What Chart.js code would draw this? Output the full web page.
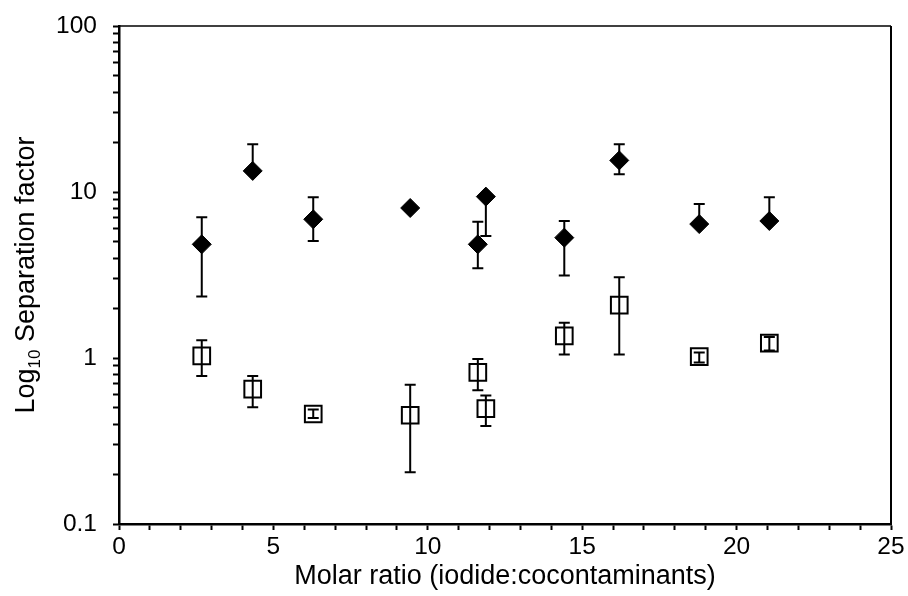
<!DOCTYPE html>
<html>
<head>
<meta charset="utf-8">
<script src="https://cdn.jsdelivr.net/npm/chart.js@4/dist/chart.umd.min.js"></script>
<style>
  html,body{margin:0;padding:0;background:#fff;}
  #wrap{width:908px;height:596px;}
</style>
</head>
<body>
<div id="wrap"><canvas id="c" width="908" height="596"></canvas></div>
<script>
// molar ratio (x) and separation factor (y)
const ratioFilled = [2.68, 4.33, 6.29, 9.43, 11.62, 11.88, 14.42, 16.2, 18.79, 21.06];
const sfFilled    = [4.84, 13.4, 6.85, 8.01, 4.84, 9.38, 5.31, 15.5, 6.41, 6.69];
const filledHigh  = [7.04, 19.4, 9.29, 8.3, 6.63, 9.38, 6.69, 19.4, 8.47, 9.29];
const filledLow   = [2.35, 13.4, 5.07, 7.75, 3.47, 5.43, 3.14, 12.8, 6.41, 6.69];

const ratioOpen = [2.68, 4.33, 6.29, 9.43, 11.62, 11.88, 14.42, 16.2, 18.79, 21.06];
const sfOpen    = [1.03, 0.65, 0.46, 0.452, 0.82, 0.496, 1.36, 2.08, 1.02, 1.23];
const openHigh  = [1.28, 0.78, 0.49, 0.69, 0.985, 0.594, 1.63, 3.06, 1.08, 1.34];
const openLow   = [0.78, 0.505, 0.435, 0.205, 0.64, 0.39, 1.05, 1.05, 0.94, 1.11];

const yMajor = [0.1, 1, 10, 100];
const xMajor = [0, 5, 10, 15, 20, 25];

const FONT = "'Liberation Sans', Arial, Helvetica, sans-serif";
const TICK_SIZE = 24.5, TITLE_SIZE = 27;

function pts(xs, ys, hi, lo){
  return xs.map((x,i)=>({x, y:ys[i], hi:hi[i], lo:lo[i]}));
}

// error bars, drawn under the markers
const errorBars = {
  id:"errorBars",
  beforeDatasetsDraw(chart){
    const {ctx, scales:{x, y}} = chart;
    ctx.save();
    ctx.strokeStyle = "#000"; ctx.lineWidth = 2;
    chart.data.datasets.forEach(ds=>{
      for(const p of ds.data){
        const px = x.getPixelForValue(p.x);
        const yh = y.getPixelForValue(p.hi), yl = y.getPixelForValue(p.lo);
        const cw = 5.5;
        ctx.beginPath();
        ctx.moveTo(px, yh); ctx.lineTo(px, yl);
        ctx.moveTo(px-cw, yh); ctx.lineTo(px+cw, yh);
        ctx.moveTo(px-cw, yl); ctx.lineTo(px+cw, yl);
        ctx.stroke();
      }
    });
    ctx.restore();
  }
};

// top/right frame and the y title with its subscript
const frame = {
  id:"frame",
  afterDraw(chart){
    const {ctx, chartArea:a} = chart;
    ctx.save();
    ctx.strokeStyle = "#000";
    ctx.lineWidth = 1.5;
    ctx.beginPath(); ctx.moveTo(a.left, a.top); ctx.lineTo(a.right, a.top); ctx.stroke();
    ctx.lineWidth = 2;
    ctx.beginPath(); ctx.moveTo(a.right, a.top); ctx.lineTo(a.right, a.bottom); ctx.stroke();

    // y title
    const big = TITLE_SIZE + "px " + FONT, small = "17px " + FONT;
    const parts = [["Log", big, 0], ["10", small, 6], [" Separation factor", big, 0]];
    let total = 0;
    for(const [t,f] of parts){ ctx.font = f; total += ctx.measureText(t).width; }
    ctx.translate(34, (a.top + a.bottom)/2);
    ctx.rotate(-Math.PI/2);
    ctx.fillStyle = "#000";
    ctx.textBaseline = "alphabetic";
    let xx = -total/2;
    for(const [t,f,dy] of parts){
      ctx.font = f; ctx.fillText(t, xx, dy);
      xx += ctx.measureText(t).width;
    }
    ctx.restore();
  }
};

new Chart(document.getElementById("c"), {
  type:"scatter",
  data:{datasets:[
    {label:"filled", data:pts(ratioFilled, sfFilled, filledHigh, filledLow),
     pointStyle:"rectRot", pointRadius:9.5, pointHoverRadius:9.5,
     backgroundColor:"#000", borderColor:"#000", borderWidth:1},
    {label:"open", data:pts(ratioOpen, sfOpen, openHigh, openLow),
     pointStyle:"rect", pointRadius:11.8, pointHoverRadius:11.8,
     backgroundColor:"rgba(0,0,0,0)", borderColor:"#000", borderWidth:2}
  ]},
  options:{
    responsive:false, animation:false,
    layout:{padding:{top:26, right:17, left:0, bottom:0}},
    plugins:{legend:{display:false}, tooltip:{enabled:false}},
    scales:{
      x:{type:"linear", min:0, max:25,
        afterBuildTicks(s){ s.ticks = Array.from({length:26},(_,i)=>({value:i})); },
        afterFit(s){ s.height = 72; s.paddingLeft = 0; s.paddingRight = 0; },
        ticks:{autoSkip:false, maxRotation:0, padding:3, color:"#000",
          font:{family:FONT, size:TICK_SIZE},
          callback:v=> xMajor.includes(v) ? String(v) : ""},
        grid:{drawOnChartArea:false, drawTicks:true, tickLength:6, tickColor:"#000", tickWidth:2},
        border:{display:true, color:"#000", width:2.5},
        title:{display:true, text:"Molar ratio (iodide:cocontaminants)", color:"#000",
          font:{family:FONT, size:TITLE_SIZE}, padding:{top:2, bottom:3}}
      },
      y:{type:"logarithmic", min:0.1, max:100,
        afterBuildTicks(s){
          const t=[];
          for(const d of [0.1,1,10]) for(let m=1;m<10;m++) t.push({value:+(m*d).toPrecision(3)});
          t.push({value:100});
          s.ticks=t;
        },
        afterFit(s){ s.width = 119; s.paddingTop = 0; s.paddingBottom = 0; },
        ticks:{autoSkip:false, padding:16, color:"#000",
          font:{family:FONT, size:TICK_SIZE},
          callback:v=> yMajor.includes(v) ? String(v) : ""},
        grid:{drawOnChartArea:false, drawTicks:true, tickLength:6, tickColor:"#000", tickWidth:2},
        border:{display:true, color:"#000", width:2.5}
      }
    }
  },
  plugins:[errorBars, frame]
});
</script>
</body>
</html>
